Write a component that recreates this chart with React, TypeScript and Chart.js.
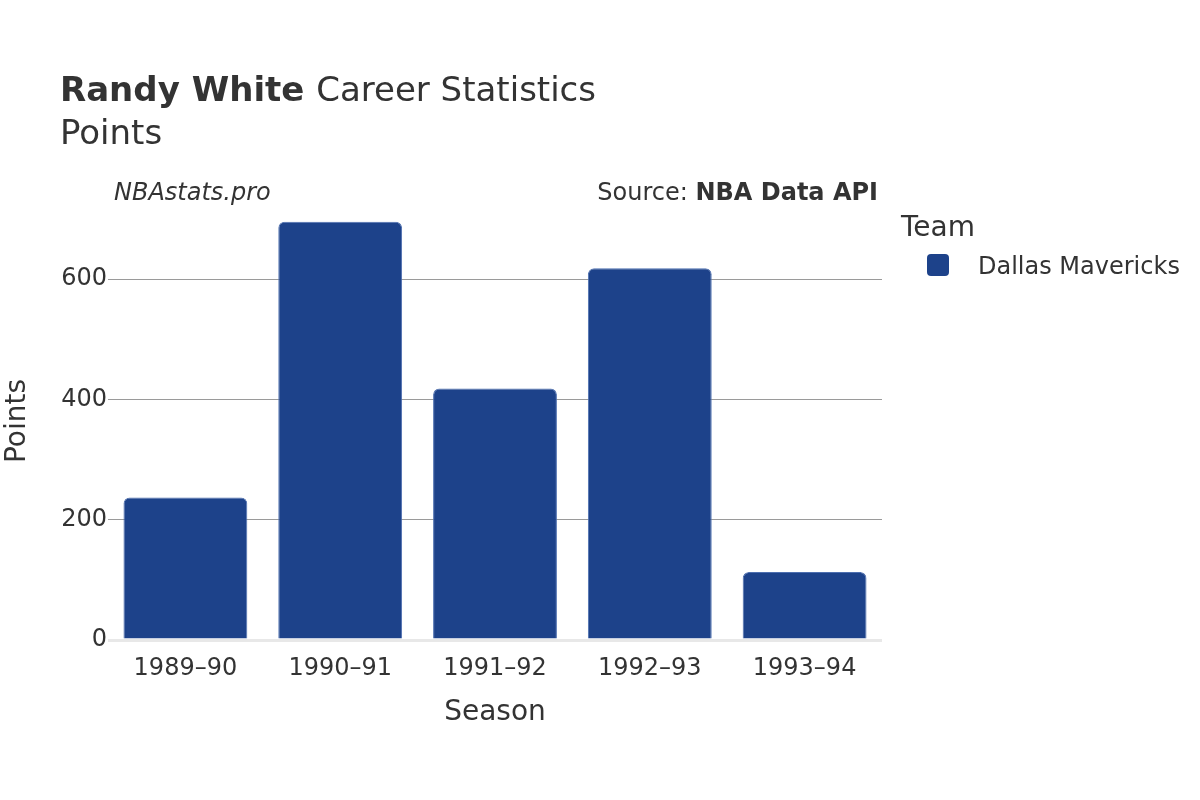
import React, { useEffect, useRef } from "react";
import { Chart, registerables } from "chart.js";

Chart.register(...registerables);

const seasons = ["1989–90", "1990–91", "1991–92", "1992–93", "1993–94"];
const points = [237, 695, 418, 618, 113];
const yTicks = [0, 200, 400, 600];
const teamName = "Dallas Mavericks";
const teamColor = "#1d428a";

const FONT = "'DejaVu Sans', sans-serif";
const TEXT = "#333333";

const textPlugin = {
  id: "textPlugin",
  afterDraw(chart: any) {
    const ctx = chart.ctx;
    ctx.save();
    ctx.fillStyle = TEXT;
    ctx.textBaseline = "alphabetic";
    ctx.textAlign = "left";
    // Title
    ctx.font = `bold 34px ${FONT}`;
    const bold = "Randy White";
    ctx.fillText(bold, 60, 101);
    const bw = ctx.measureText(bold + " ").width;
    ctx.font = `34px ${FONT}`;
    ctx.fillText("Career Statistics", 60 + bw, 101);
    ctx.fillText("Points", 60, 144);
    // annotations
    ctx.font = `italic 24px ${FONT}`;
    ctx.fillText("NBAstats.pro", 114, 200);
    ctx.textAlign = "right";
    ctx.font = `bold 24px ${FONT}`;
    const src = "NBA Data API";
    ctx.fillText(src, 878, 200);
    const sw = ctx.measureText(src).width;
    ctx.font = `24px ${FONT}`;
    ctx.fillText("Source: ", 878 - sw, 200);
    // legend
    ctx.textAlign = "left";
    ctx.font = `28px ${FONT}`;
    ctx.fillText("Team", 901, 236);
    ctx.fillStyle = teamColor;
    ctx.beginPath();
    (ctx as any).roundRect(927, 254, 22, 22, 4);
    ctx.fill();
    ctx.fillStyle = TEXT;
    ctx.font = `24px ${FONT}`;
    ctx.fillText(teamName, 978, 274);
    ctx.restore();
  },
};

export default function App() {
  const ref = useRef<HTMLCanvasElement>(null);
  useEffect(() => {
    if (!ref.current) return;
    const chart = new Chart(ref.current, {
      type: "bar",
      data: {
        labels: seasons,
        datasets: [
          {
            label: teamName,
            data: points,
            backgroundColor: teamColor,
            borderColor: "#4d6fb0",
            borderWidth: 1,
            borderRadius: 6,
            borderSkipped: "bottom",
            categoryPercentage: 1,
            barPercentage: 0.8,
          },
        ],
      },
      options: {
        responsive: false,
        animation: false,
        devicePixelRatio: 1,
        layout: { padding: { top: 202, right: 318, left: 0, bottom: 0 } },
        plugins: { legend: { display: false }, tooltip: { enabled: false }, title: { display: false } },
        scales: {
          x: {
            grid: { display: false },
            border: { display: false },
            ticks: { color: TEXT, font: { family: FONT, size: 24 }, padding: 6, maxRotation: 0 },
            title: { display: true, text: "Season", color: TEXT, font: { family: FONT, size: 28 }, padding: { top: 0, bottom: 70 } },
            afterFit: (s: any) => { s.height = 160; },
          },
          y: {
            min: 0,
            max: 728,
            border: { display: false },
            grid: {
              drawTicks: false,
              color: (c: any) => (c.tick && c.tick.value === 0 ? "#e8e8e8" : "#9a9a9a"),
              lineWidth: (c: any) => (c.tick && c.tick.value === 0 ? 3 : 1),
            },
            afterBuildTicks: (s: any) => { s.ticks = yTicks.map((v) => ({ value: v })); },
            ticks: { color: TEXT, font: { family: FONT, size: 24 }, padding: 1 },
            title: { display: true, text: "Points", color: TEXT, font: { family: FONT, size: 28 }, padding: { top: 1, bottom: 0 } },
            afterFit: (s: any) => { s.width = 108; },
          },
        },
      },
      plugins: [textPlugin],
    });
    return () => chart.destroy();
  }, []);
  return (
    <div style={{ position: "absolute", left: 0, top: 0, width: 1200, height: 800, background: "#fff" }}>
      <canvas ref={ref} width={1200} height={800} />
    </div>
  );
}
